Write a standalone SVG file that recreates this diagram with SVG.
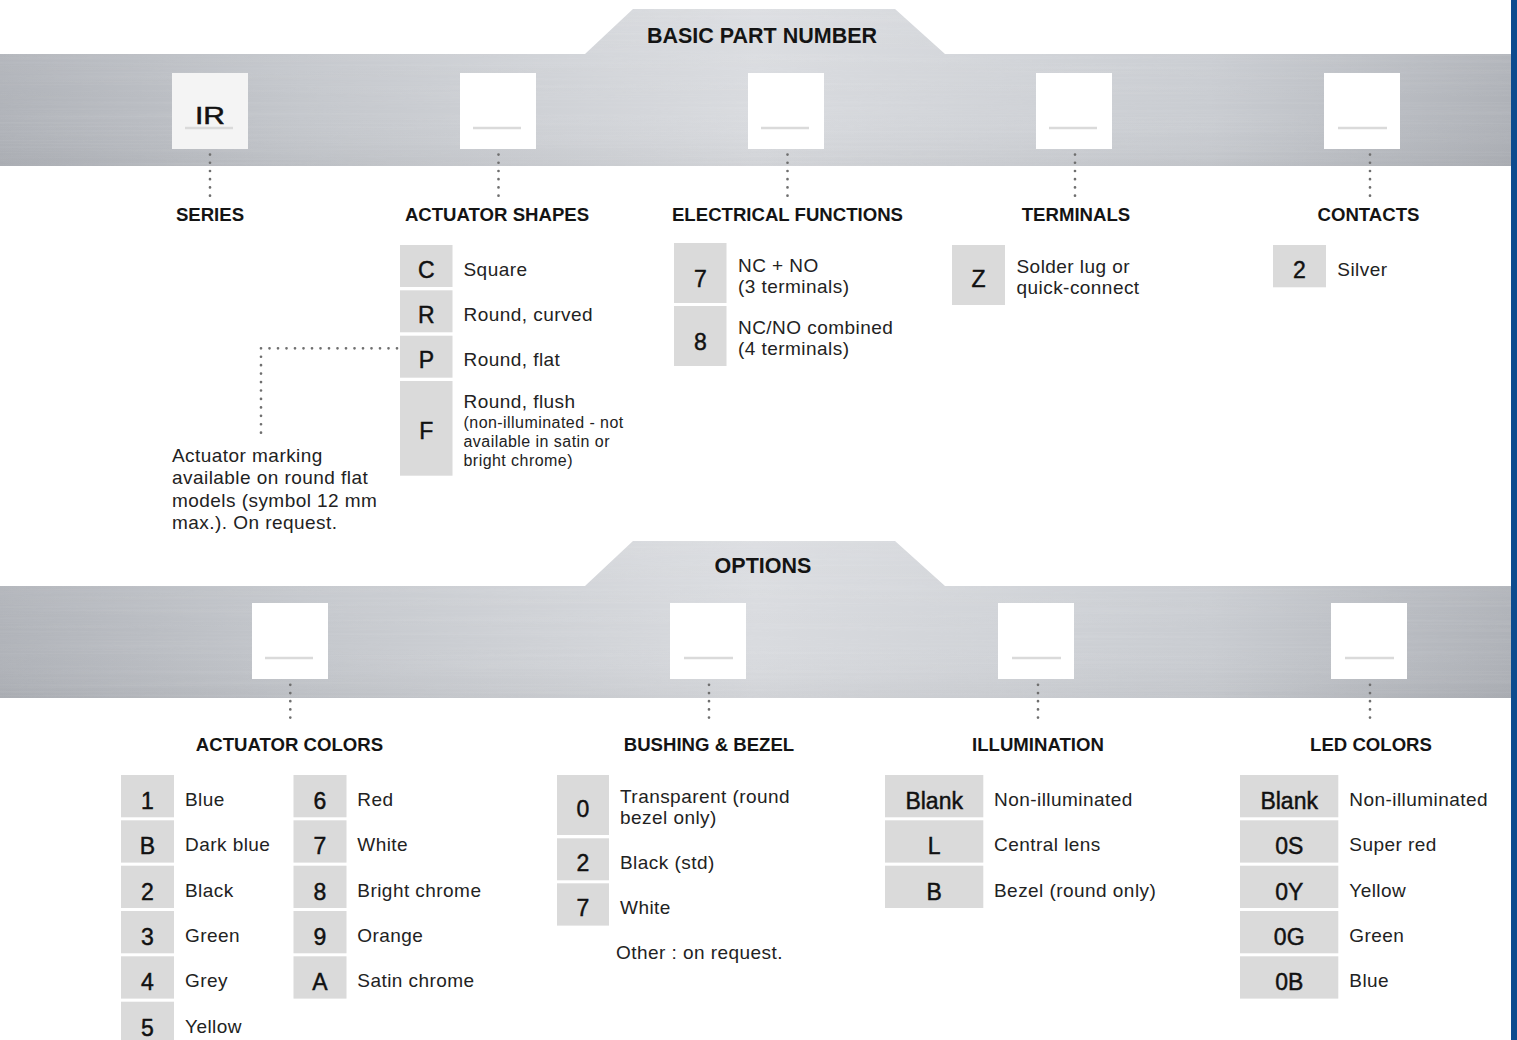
<svg xmlns="http://www.w3.org/2000/svg" width="1517" height="1040" viewBox="0 0 1517 1040">
<defs>
<linearGradient id="metalH" gradientUnits="userSpaceOnUse" x1="0" y1="0" x2="1511" y2="0">
<stop offset="0" stop-color="#b0b3b9"/>
<stop offset="0.2" stop-color="#c4c7cc"/>
<stop offset="0.5" stop-color="#d9dbdf"/>
<stop offset="0.8" stop-color="#c9ccd1"/>
<stop offset="1" stop-color="#afb2b8"/>
</linearGradient>
<linearGradient id="shadeV1" gradientUnits="userSpaceOnUse" x1="0" y1="9" x2="0" y2="166">
<stop offset="0" stop-color="#ffffff" stop-opacity="0.1"/>
<stop offset="0.6" stop-color="#ffffff" stop-opacity="0"/>
<stop offset="1" stop-color="#000000" stop-opacity="0.04"/>
</linearGradient>
<linearGradient id="shadeV2" gradientUnits="userSpaceOnUse" x1="0" y1="541" x2="0" y2="698">
<stop offset="0" stop-color="#ffffff" stop-opacity="0.1"/>
<stop offset="0.6" stop-color="#ffffff" stop-opacity="0"/>
<stop offset="1" stop-color="#000000" stop-opacity="0.04"/>
</linearGradient>
<filter id="brush" x="0" y="0" width="100%" height="100%">
<feTurbulence type="fractalNoise" baseFrequency="0.003 0.45" numOctaves="2" seed="4" result="n"/>
<feColorMatrix in="n" type="matrix" values="0 0 0 0 1  0 0 0 0 1  0 0 0 0 1  0.5 0 0 0 -0.2" result="w"/>
<feComposite in="w" in2="SourceAlpha" operator="in"/>
</filter>
<style>
.band{fill:url(#metalH)}
.slot{fill:#ffffff}
.slotir{fill:#f4f4f4}
.ul{stroke:#dadada;stroke-width:2.5;fill:none}
.hdr{font-family:"Liberation Sans",Arial,sans-serif;font-weight:bold;font-size:21.5px;fill:#141414;text-anchor:middle}
.sec{font-family:"Liberation Sans",Arial,sans-serif;font-weight:bold;font-size:18.6px;fill:#141414;text-anchor:middle}
.cell{fill:#dadada}
.code{font-family:"Liberation Sans",Arial,sans-serif;font-size:23px;fill:#111;stroke:#111;stroke-width:0.45;text-anchor:middle}
.desc{font-family:"Liberation Sans",Arial,sans-serif;font-size:19px;letter-spacing:0.45px;fill:#222}
.small{font-family:"Liberation Sans",Arial,sans-serif;font-size:16px;letter-spacing:0.45px;fill:#222}
.dot{fill:none;stroke:#6f6f6f;stroke-width:2.7;stroke-linecap:round}
</style>
</defs>
<rect x="0" y="0" width="1517" height="1040" fill="#ffffff"/>
<rect x="1511" y="0" width="6" height="1040" fill="#0d4b8e"/>

<g id="band-basic">
<path class="band" d="M0,54 H585 L633,9 H895 L945,54 H1511 V166 H0 Z"/>
<path fill="url(#shadeV1)" d="M0,54 H585 L633,9 H895 L945,54 H1511 V166 H0 Z"/>
<path fill="#000" filter="url(#brush)" opacity="0.3" d="M0,54 H585 L633,9 H895 L945,54 H1511 V166 H0 Z"/>
<text class="hdr" x="762" y="42.5">BASIC PART NUMBER</text>
</g>

<g id="band-options">
<path class="band" d="M0,586 H585 L633,541 H895 L945,586 H1511 V698 H0 Z"/>
<path fill="url(#shadeV2)" d="M0,586 H585 L633,541 H895 L945,586 H1511 V698 H0 Z"/>
<path fill="#000" filter="url(#brush)" opacity="0.3" d="M0,586 H585 L633,541 H895 L945,586 H1511 V698 H0 Z"/>
<text class="hdr" x="763" y="572.5">OPTIONS</text>
</g>

<g id="connectors">
<path class="dot" stroke-dasharray="0 8.23" d="M210,146.3 V195.7"/>
<path class="dot" stroke-dasharray="0 8.23" d="M498.5,146.3 V195.7"/>
<path class="dot" stroke-dasharray="0 8.23" d="M787.5,146.3 V195.7"/>
<path class="dot" stroke-dasharray="0 8.23" d="M1075,146.3 V195.7"/>
<path class="dot" stroke-dasharray="0 8.23" d="M1370,146.3 V195.7"/>
<path class="dot" stroke-dasharray="0 8.17" d="M290.3,676.7 V725.7"/>
<path class="dot" stroke-dasharray="0 8.17" d="M709,676.7 V725.7"/>
<path class="dot" stroke-dasharray="0 8.17" d="M1038,676.7 V725.7"/>
<path class="dot" stroke-dasharray="0 8.17" d="M1370,676.7 V725.7"/>
<path class="dot" stroke-dasharray="0 8.5" d="M397,348.3 H261"/>
<path class="dot" stroke-dasharray="0 8.44" d="M261,348.3 V432.7"/>
</g>

<g id="series">
<rect class="slotir" x="172" y="73" width="76" height="76"/>
<line class="ul" x1="185" y1="128" x2="233" y2="128"/>
<text x="210" y="123.5" font-family="Liberation Sans, Arial, sans-serif" font-size="24" fill="#111" stroke="#111" stroke-width="0.5" text-anchor="middle" textLength="30" lengthAdjust="spacingAndGlyphs">IR</text>
<text class="sec" x="210" y="221">SERIES</text>
</g>

<g id="actuator-shapes">
<rect class="slot" x="460" y="73" width="76" height="76"/>
<line class="ul" x1="473" y1="128" x2="521" y2="128"/>
<text class="sec" x="497" y="221">ACTUATOR SHAPES</text>
<rect class="cell" x="400" y="245" width="52.5" height="42"/>
<rect class="cell" x="400" y="290.3" width="52.5" height="42"/>
<rect class="cell" x="400" y="335.7" width="52.5" height="42"/>
<rect class="cell" x="400" y="381" width="52.5" height="94.7"/>
<text class="code" x="426.3" y="278.3">C</text>
<text class="code" x="426.3" y="323.3">R</text>
<text class="code" x="426.3" y="368.3">P</text>
<text class="code" x="426.3" y="439.3">F</text>
<text class="desc" x="463.5" y="276">Square</text>
<text class="desc" x="463.5" y="321">Round, curved</text>
<text class="desc" x="463.5" y="366">Round, flat</text>
<text class="desc" x="463.5" y="408.3">Round, flush</text>
<text class="small" x="463.5" y="428.3">(non-illuminated - not</text>
<text class="small" x="463.5" y="447">available in satin or</text>
<text class="small" x="463.5" y="465.7">bright chrome)</text>
</g>

<g id="marking-note">
<text class="desc" x="172" y="461.7">Actuator marking</text>
<text class="desc" x="172" y="484">available on round flat</text>
<text class="desc" x="172" y="506.5">models (symbol 12 mm</text>
<text class="desc" x="172" y="528.5">max.). On request.</text>
</g>

<g id="electrical-functions">
<rect class="slot" x="748" y="73" width="76" height="76"/>
<line class="ul" x1="761" y1="128" x2="809" y2="128"/>
<text class="sec" x="787.5" y="221">ELECTRICAL FUNCTIONS</text>
<rect class="cell" x="674" y="243" width="52.5" height="60"/>
<rect class="cell" x="674" y="306" width="52.5" height="60"/>
<text class="code" x="700.3" y="286.7">7</text>
<text class="code" x="700.3" y="349.5">8</text>
<text class="desc" x="738" y="272.3">NC + NO</text>
<text class="desc" x="738" y="293.3">(3 terminals)</text>
<text class="desc" x="738" y="334.3">NC/NO combined</text>
<text class="desc" x="738" y="355.3">(4 terminals)</text>
</g>

<g id="terminals">
<rect class="slot" x="1036" y="73" width="76" height="76"/>
<line class="ul" x1="1049" y1="128" x2="1097" y2="128"/>
<text class="sec" x="1076" y="221">TERMINALS</text>
<rect class="cell" x="952" y="245" width="53" height="60"/>
<text class="code" x="978.5" y="286.7">Z</text>
<text class="desc" x="1016.5" y="273.3">Solder lug or</text>
<text class="desc" x="1016.5" y="294.3">quick-connect</text>
</g>

<g id="contacts">
<rect class="slot" x="1324" y="73" width="76" height="76"/>
<line class="ul" x1="1338" y1="128" x2="1387" y2="128"/>
<text class="sec" x="1368.5" y="221">CONTACTS</text>
<rect class="cell" x="1273" y="245" width="53" height="42.3"/>
<text class="code" x="1299.5" y="278.3">2</text>
<text class="desc" x="1337.3" y="276">Silver</text>
</g>

<g id="actuator-colors">
<rect class="slot" x="252" y="603" width="76" height="76"/>
<line class="ul" x1="265" y1="658" x2="313" y2="658"/>
<text class="sec" x="289.5" y="751">ACTUATOR COLORS</text>
<rect class="cell" x="121" y="775" width="53" height="42.3"/>
<rect class="cell" x="121" y="820.3" width="53" height="42.3"/>
<rect class="cell" x="121" y="865.7" width="53" height="42.3"/>
<rect class="cell" x="121" y="911" width="53" height="42.3"/>
<rect class="cell" x="121" y="956.3" width="53" height="42.3"/>
<rect class="cell" x="121" y="1001.7" width="53" height="42.3"/>
<text class="code" x="147.5" y="809">1</text>
<text class="code" x="147.5" y="854.3">B</text>
<text class="code" x="147.5" y="899.7">2</text>
<text class="code" x="147.5" y="945">3</text>
<text class="code" x="147.5" y="990.3">4</text>
<text class="code" x="147.5" y="1035.7">5</text>
<text class="desc" x="185" y="806">Blue</text>
<text class="desc" x="185" y="851.3">Dark blue</text>
<text class="desc" x="185" y="896.7">Black</text>
<text class="desc" x="185" y="942">Green</text>
<text class="desc" x="185" y="987.3">Grey</text>
<text class="desc" x="185" y="1032.7">Yellow</text>
<rect class="cell" x="293.5" y="775" width="53" height="42.3"/>
<rect class="cell" x="293.5" y="820.3" width="53" height="42.3"/>
<rect class="cell" x="293.5" y="865.7" width="53" height="42.3"/>
<rect class="cell" x="293.5" y="911" width="53" height="42.3"/>
<rect class="cell" x="293.5" y="956.3" width="53" height="42.3"/>
<text class="code" x="320" y="809">6</text>
<text class="code" x="320" y="854.3">7</text>
<text class="code" x="320" y="899.7">8</text>
<text class="code" x="320" y="945">9</text>
<text class="code" x="320" y="990.3">A</text>
<text class="desc" x="357.3" y="806">Red</text>
<text class="desc" x="357.3" y="851.3">White</text>
<text class="desc" x="357.3" y="896.7">Bright chrome</text>
<text class="desc" x="357.3" y="942">Orange</text>
<text class="desc" x="357.3" y="987.3">Satin chrome</text>
</g>

<g id="bushing-bezel">
<rect class="slot" x="670" y="603" width="76" height="76"/>
<line class="ul" x1="684" y1="658" x2="733" y2="658"/>
<text class="sec" x="709" y="750.5">BUSHING &amp; BEZEL</text>
<rect class="cell" x="557" y="775" width="52" height="60"/>
<rect class="cell" x="557" y="838.3" width="52" height="42"/>
<rect class="cell" x="557" y="883.3" width="52" height="42.3"/>
<text class="code" x="583" y="816.7">0</text>
<text class="code" x="583" y="870.7">2</text>
<text class="code" x="583" y="915.7">7</text>
<text class="desc" x="620" y="803.3">Transparent (round</text>
<text class="desc" x="620" y="824.3">bezel only)</text>
<text class="desc" x="620" y="869">Black (std)</text>
<text class="desc" x="620" y="914">White</text>
<text class="desc" x="616" y="959.3">Other : on request.</text>
</g>

<g id="illumination">
<rect class="slot" x="998" y="603" width="76" height="76"/>
<line class="ul" x1="1012" y1="658" x2="1061" y2="658"/>
<text class="sec" x="1038" y="750.5">ILLUMINATION</text>
<rect class="cell" x="885" y="775" width="98.3" height="42.3"/>
<rect class="cell" x="885" y="820.3" width="98.3" height="42.3"/>
<rect class="cell" x="885" y="865.7" width="98.3" height="42.3"/>
<text class="code" x="934.2" y="809">Blank</text>
<text class="code" x="934.2" y="854.3">L</text>
<text class="code" x="934.2" y="899.7">B</text>
<text class="desc" x="994" y="806">Non-illuminated</text>
<text class="desc" x="994" y="851.3">Central lens</text>
<text class="desc" x="994" y="896.7">Bezel (round only)</text>
</g>

<g id="led-colors">
<rect class="slot" x="1331" y="603" width="76" height="76"/>
<line class="ul" x1="1345" y1="658" x2="1394" y2="658"/>
<text class="sec" x="1371" y="751">LED COLORS</text>
<rect class="cell" x="1240" y="775" width="98.3" height="42.3"/>
<rect class="cell" x="1240" y="820.3" width="98.3" height="42.3"/>
<rect class="cell" x="1240" y="865.7" width="98.3" height="42.3"/>
<rect class="cell" x="1240" y="911" width="98.3" height="42.3"/>
<rect class="cell" x="1240" y="956.3" width="98.3" height="42.3"/>
<text class="code" x="1289.2" y="809">Blank</text>
<text class="code" x="1289.2" y="854.3">0S</text>
<text class="code" x="1289.2" y="899.7">0Y</text>
<text class="code" x="1289.2" y="945">0G</text>
<text class="code" x="1289.2" y="990.3">0B</text>
<text class="desc" x="1349.3" y="806">Non-illuminated</text>
<text class="desc" x="1349.3" y="851.3">Super red</text>
<text class="desc" x="1349.3" y="896.7">Yellow</text>
<text class="desc" x="1349.3" y="942">Green</text>
<text class="desc" x="1349.3" y="987.3">Blue</text>
</g>
</svg>
